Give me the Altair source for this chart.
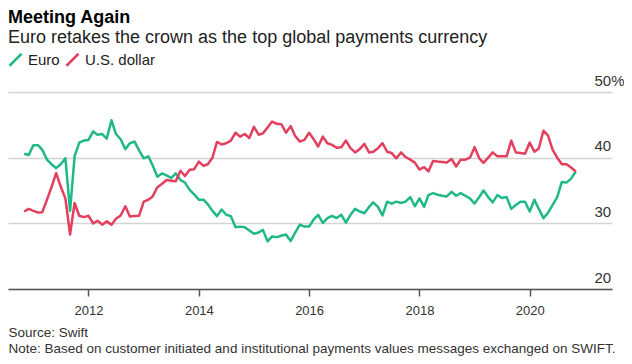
import altair as alt
import pandas as pd

START_MONTH = "2010-11-01"
CURRENCIES = ["Euro", "U.S. dollar"]
COLORS = ["#21b887", "#e33f5f"]

euro = [
    40.6, 40.4, 41.9, 41.9, 41.2, 39.7, 39.0, 38.4, 39.0, 39.9,
    31.9, 40.2, 42.3, 42.6, 42.7, 44.0, 43.5, 43.6, 42.9, 45.7,
    43.6, 42.8, 41.3, 42.2, 42.45, 41.1, 39.9, 40.2, 38.8, 37.1,
    37.6, 37.3, 36.9, 37.6, 36.6, 36.2, 35.1, 34.4, 33.6, 33.6,
    32.9, 31.9, 31.1, 32.1, 31.3, 31.1, 29.4, 29.5, 29.4, 28.9,
    28.4, 28.6, 29.0, 27.25, 28.0, 27.9, 28.1, 28.3, 27.3, 28.6,
    29.8, 29.5, 29.5, 30.6, 31.3, 30.05, 30.8, 31.15, 30.8, 31.3,
    30.1, 31.3, 32.2, 31.8, 31.55, 32.5, 33.2, 32.5, 31.2, 33.3,
    33.0, 33.3, 33.1, 33.3, 34.0, 32.6, 33.8, 32.5, 34.3, 34.6,
    34.35, 34.2, 34.1, 34.8, 34.2, 34.6, 34.2, 33.8, 33.0, 34.0,
    35.0, 34.0, 33.2, 34.3, 33.85, 34.0, 32.2, 32.8, 33.3, 33.3,
    31.8, 33.6, 32.2, 30.8, 31.6, 32.8, 34.0, 36.3, 36.2, 36.8,
    37.9,
]

usd = [
    31.8, 32.2, 31.9, 31.65, 31.7, 33.6, 35.5, 37.65, 35.6, 33.8,
    28.3, 33.1, 31.15, 30.95, 31.15, 30.0, 30.4, 29.8, 30.3, 29.8,
    30.7, 31.2, 32.6, 31.05, 31.1, 31.15, 33.3, 33.6, 34.1, 35.5,
    36.0, 36.6, 36.5, 36.4, 38.0, 37.2, 38.15, 38.25, 39.4, 38.75,
    39.0, 40.0, 42.4, 42.0, 42.2, 42.6, 43.8, 43.2, 43.6, 43.0,
    44.7, 43.5, 43.7, 44.6, 45.5, 45.15, 45.1, 43.8, 44.8, 43.3,
    42.45, 42.7, 43.8, 42.8, 41.7, 43.2, 42.2, 41.95, 41.5, 41.6,
    42.6, 41.45, 40.8, 41.3, 42.1, 40.8, 40.9, 41.45, 42.2, 40.9,
    40.7, 39.9, 40.8, 40.1, 39.7, 39.25, 38.2, 38.55, 37.9, 39.5,
    39.4, 39.35, 39.25, 39.8, 38.65, 39.7, 39.7, 40.0, 41.6, 39.9,
    39.2, 40.0, 40.8, 40.2, 40.2, 40.2, 42.6, 40.8, 40.7, 40.6,
    42.3, 40.9, 41.4, 44.1, 43.4, 41.2, 40.0, 39.0, 39.0, 38.5,
    37.9,
]

TICK_YEARS = [2012, 2014, 2016, 2018, 2020]
Y_TICKS = [20, 30, 40, 50]
TITLE = "Meeting Again"
SUBTITLE = "Euro retakes the crown as the top global payments currency"
NOTES = [
    "Source: Swift",
    "Note: Based on customer initiated and institutional payments values messages exchanged on SWIFT.",
]

n = len(euro)
dates = pd.date_range(START_MONTH, periods=n, freq="MS")
df = pd.DataFrame({
    "date": list(dates) + list(dates),
    "share": euro + usd,
    "currency": [CURRENCIES[0]] * n + [CURRENCIES[1]] * n,
})

FONT = "Liberation Sans"

chart = alt.Chart(df).mark_line(strokeWidth=2.5, strokeJoin="round").encode(
    x=alt.X(
        "date:T",
        scale=alt.Scale(domain=[alt.DateTime(year=2010, month=7, date=17),
                                alt.DateTime(year=2021, month=6, date=29)]),
        axis=alt.Axis(
            values=[alt.DateTime(year=y, month=1, date=1) for y in TICK_YEARS],
            format="%Y", grid=False,
            domainColor="#555555", domainWidth=1.5,
            tickColor="#555555", tickWidth=1.5, tickSize=7,
            labelFontSize=13, labelColor="#333333", labelPadding=8,
            labelFlush=False,
            title=NOTES, titleAnchor="start", titleAlign="left",
            titleX=0, titleY=47, titleFontSize=13.5, titleFontWeight="normal",
            titleColor="#333333", titleLineHeight=16, titleBaseline="alphabetic",
            zindex=1,
        ),
    ),
    y=alt.Y(
        "share:Q",
        scale=alt.Scale(domain=[20, 50], nice=False, zero=False),
        axis=alt.Axis(
            orient="right", values=Y_TICKS, domain=False, ticks=False, tickSize=0,
            grid=True, gridColor="#d4d4d4", gridWidth=1.5,
            labelAlign="left", labelPadding=-18, labelBaseline="alphabetic",
            labelOffset=-7, labelFontSize=15, labelColor="#333333",
            labelExpr="datum.value == 50 ? '50%' : datum.label",
            labelFlush=False, labelOverlap=False, labelBound=False,
            title="",
        ),
    ),
    color=alt.Color(
        "currency:N",
        scale=alt.Scale(domain=CURRENCIES, range=COLORS),
        legend=alt.Legend(
            title=None, orient="none", legendX=0, legendY=-40,
            direction="horizontal", symbolType="M-1,1L1,-1", symbolSize=144,
            symbolStrokeWidth=2.5, labelFontSize=15, labelColor="#222222",
            labelOffset=5, columnPadding=1, padding=0,
        ),
    ),
).properties(
    width=604, height=197,
    autosize=alt.AutoSizeParams(type="none"),
    padding={"left": 0, "top": 84, "right": 12, "bottom": 68},
    title=alt.TitleParams(
        text=TITLE, subtitle=SUBTITLE, anchor="start", frame="group",
        fontSize=18, fontWeight="bold", color="#000000",
        subtitleFontSize=18, subtitleColor="#222222", subtitlePadding=2,
        offset=5, dx=0, font=FONT, subtitleFont=FONT,
    ),
).configure(font=FONT).configure_view(stroke=None)

chart.save("out.html", embed_options={"renderer": "svg", "actions": False})
